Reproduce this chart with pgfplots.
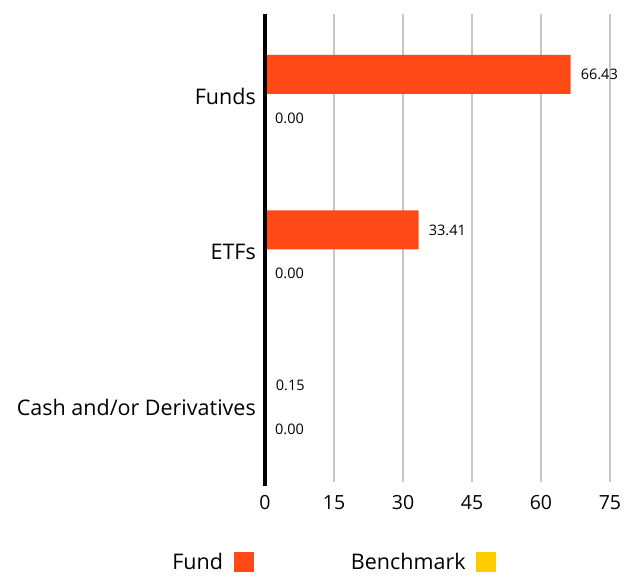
\documentclass[border=0pt]{standalone}
\usepackage{fontspec}
\setmainfont{Open Sans}
\usepackage{pgfplots}
\pgfplotsset{compat=1.18}
\definecolor{fundc}{HTML}{FF4A17}
\definecolor{benchc}{HTML}{FFCC00}
\definecolor{gridc}{HTML}{C6C6C6}
\begin{document}
\begin{tikzpicture}
\path[use as bounding box] (-265bp,-95bp) rectangle (368bp,482bp);
\begin{axis}[
  scale only axis,
  clip=false,
  width=345bp, height=468bp,
  xbar, bar width=39bp,
  xmin=0, xmax=75,
  ymin=-0.482, ymax=2.527,
  xtick={0,15,30,45,60,75},
  ytick={0,1,2},
  yticklabels={Cash and/or Derivatives, ETFs, Funds},
  axis line style={draw=none},
  major tick length=0pt,
  xmajorgrids, ymajorgrids=false,
  grid style={gridc, line width=2.6bp},
  /pgf/number format/assume math mode=true,
  xticklabel style={font=\fontsize{19.5bp}{22bp}\selectfont, inner sep=0pt, yshift=-13bp},
  yticklabel style={font=\fontsize{21.5bp}{24bp}\selectfont, inner sep=0pt, xshift=-9bp},
  nodes near coords,
  point meta=x,
  every node near coord/.append style={font=\fontsize{14.5bp}{16bp}\selectfont, anchor=west, inner sep=0pt, xshift=10bp,
    /pgf/number format/.cd, fixed, fixed zerofill, precision=2, assume math mode=true},
  legend style={at={(0.197,-0.172)}, anchor=center, draw=none, fill=none,
    inner sep=0pt, outer sep=0pt,
    legend columns=2, font=\fontsize{21.5bp}{24bp}\selectfont,
    /tikz/every even column/.append style={column sep=95bp}},
  legend plot pos=right,
  legend cell align=left,
]
\addplot[draw=none, fill=fundc, bar shift=21.5bp,
  legend image code/.code={\path (0bp,0bp); \fill[fundc] (9bp,-10bp) rectangle (29bp,10bp);}]
  coordinates {(66.43,2) (33.41,1) (0.15,0)};
\addlegendentry{Fund}
\addplot[draw=none, fill=benchc, bar shift=-22bp,
  legend image code/.code={\path (0bp,0bp); \fill[benchc] (8bp,-10bp) rectangle (28bp,10bp);}]
  coordinates {(0,2) (0,1) (0,0)};
\addlegendentry{Benchmark}
\draw[black, line width=4.8bp] ([yshift=-4bp]axis cs:0,-0.482) -- (axis cs:0,2.527);
\end{axis}
\end{tikzpicture}
\end{document}
